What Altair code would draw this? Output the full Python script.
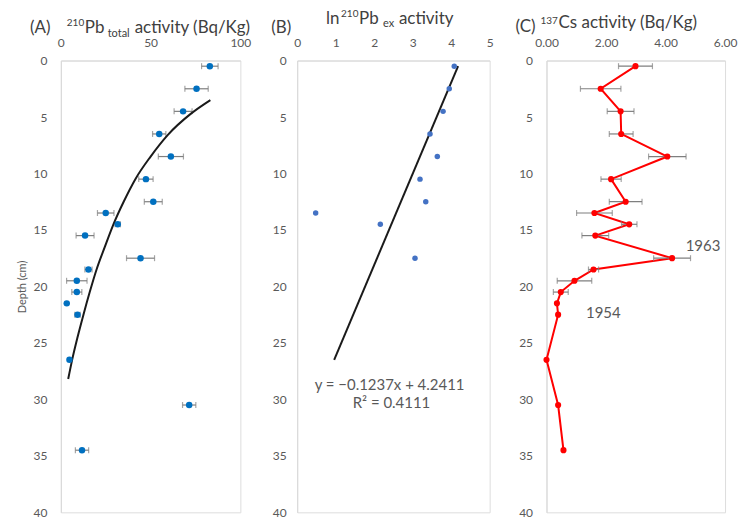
import altair as alt
import pandas as pd

FONT = "Lato"
LABEL_C = "#595959"
TITLE_C = "#404040"

# ---------------- Panel A : 210Pb total ----------------
depth_a = [0.5, 2.5, 4.5, 6.5, 8.5, 10.5, 12.5, 13.5, 14.5, 15.5, 17.5, 18.5, 19.5, 20.5, 21.5, 22.5, 26.5, 30.5, 34.5]
pb_total = [83.0, 75.6, 68.1, 54.8, 61.3, 47.4, 51.5, 25.0, 31.7, 13.5, 44.4, 15.4, 8.9, 8.9, 3.3, 9.3, 4.8, 71.5, 11.8]
pb_total_err = [4.6, 6.5, 5.0, 3.7, 7.0, 4.0, 5.0, 4.6, 1.5, 5.0, 7.8, 2.0, 5.7, 2.8, 0.0, 1.5, 0.0, 3.7, 3.7]
fit_a_depth = [3.5, 4.7, 6.6, 8.5, 10.5, 12.5, 14.5, 16.5, 18.5, 20.5, 22.5, 24.5, 26.5, 28.2]
fit_a_value = [83.3, 72.5, 59.5, 50.0, 41.5, 35.0, 29.3, 24.5, 19.9, 16.1, 12.6, 9.3, 6.3, 4.1]

# ---------------- Panel B : ln 210Pb excess ----------------
depth_b = [0.5, 2.5, 4.5, 6.5, 8.5, 10.5, 12.5, 13.5, 14.5, 17.5]
ln_pbex = [4.08, 3.95, 3.79, 3.45, 3.64, 3.19, 3.34, 0.48, 2.16, 3.06]
fit_b_depth = [0.5, 26.5]
fit_b_value = [4.18, 0.96]
eq_text = ["y = \u22120.1237x + 4.2411", "R\u00b2 = 0.4111"]
eq_x = [2.40, 2.45]
eq_depth = [28.7, 30.3]

# ---------------- Panel C : 137Cs ----------------
depth_c = [0.5, 2.5, 4.5, 6.5, 8.5, 10.5, 12.5, 13.5, 14.5, 15.5, 17.5, 18.5, 19.5, 20.5, 21.5, 22.5, 26.5, 30.5, 34.5]
cs = [2.99, 1.82, 2.49, 2.51, 4.06, 2.17, 2.66, 1.61, 2.78, 1.64, 4.22, 1.58, 0.94, 0.48, 0.35, 0.39, 0.0, 0.39, 0.57]
cs_err = [0.57, 0.68, 0.45, 0.40, 0.63, 0.34, 0.55, 0.60, 0.26, 0.45, 0.62, 0.17, 0.58, 0.25, 0.0, 0.0, 0.0, 0.0, 0.0]
year_text = ["1963", "1954"]
year_x = [5.26, 1.91]
year_depth = [16.45, 22.36]

H = 453
one = pd.DataFrame({"k": [0]})


def make_y(pad, title=""):
    def f():
        ax = alt.Axis(values=list(range(0, 41, 5)), labelPadding=pad, labelFontSize=12,
                      labelColor=LABEL_C, domainColor="#d9d9d9", ticks=False, grid=False,
                      title=title, titleFontSize=11, titleFontWeight="normal",
                      titleColor=LABEL_C, titlePadding=6)
        return alt.Y("depth:Q", scale=alt.Scale(domain=[0, 40], reverse=True, nice=False), axis=ax)
    return f


def make_x(domain, values, fmt=None):
    def f(field):
        kw = dict(orient="top", values=values, labelPadding=11, labelFontSize=12,
                  labelColor=LABEL_C, domainColor="#d9d9d9", ticks=False, grid=False,
                  labelFlush=False, title=None)
        if fmt:
            kw["format"] = fmt
        return alt.X(field, scale=alt.Scale(domain=domain, nice=False), axis=alt.Axis(**kw))
    return f


def txt(s, x, y, size, color=TITLE_C, align="left"):
    return alt.Chart(one).mark_text(text=s, align=align, baseline="alphabetic",
                                    fontSize=size, font=FONT, color=color).encode(
        x=alt.value(x), y=alt.value(y))


def errbars(df, field, xf, yf):
    d = df[df["err"] > 0]
    rule = alt.Chart(d).transform_calculate(
        lo=f"datum.{field} - datum.err", hi=f"datum.{field} + datum.err"
    ).mark_rule(color="#7f7f7f", strokeWidth=1.2).encode(
        x=xf("lo:Q"), x2="hi:Q", y=yf())
    tlo = alt.Chart(d).transform_calculate(lo=f"datum.{field} - datum.err").mark_tick(
        orient="vertical", color="#7f7f7f", size=6, thickness=1.2).encode(
        x=xf("lo:Q"), y=yf())
    thi = alt.Chart(d).transform_calculate(hi=f"datum.{field} + datum.err").mark_tick(
        orient="vertical", color="#7f7f7f", size=6, thickness=1.2).encode(
        x=xf("hi:Q"), y=yf())
    return [rule, tlo, thi]


# ---- Panel A
dfa = pd.DataFrame({"depth": depth_a, "val": pb_total, "err": pb_total_err})
dfa_fit = pd.DataFrame({"depth": fit_a_depth, "val": fit_a_value})
xa = make_x([0, 100], [0, 50, 100])
ya = make_y(14, "Depth (cm)")
a_layers = errbars(dfa, "val", xa, ya) + [
    alt.Chart(dfa_fit).mark_line(color="#1a1a1a", strokeWidth=2, interpolate="monotone").encode(
        x=xa("val:Q"), y=ya(), order="depth:Q"),
    alt.Chart(dfa).mark_circle(color="#0070C0", size=42, opacity=1).encode(x=xa("val:Q"), y=ya()),
    txt("(A)", -31, -28, 17),
    txt("210", 6, -35, 10),
    txt("Pb", 24, -28, 17),
    txt("total", 47, -24, 11),
    txt("activity (Bq/Kg)", 74, -28, 17),
]
panelA = alt.layer(*a_layers).properties(width=180, height=H)

# ---- Panel B
dfb = pd.DataFrame({"depth": depth_b, "val": ln_pbex})
dfb_fit = pd.DataFrame({"depth": fit_b_depth, "val": fit_b_value})
dfb_eq = pd.DataFrame({"depth": eq_depth, "val": eq_x, "t": eq_text})
xb = make_x([0, 5], [0, 1, 2, 3, 4, 5])
yb = make_y(11)
b_layers = [
    alt.Chart(dfb_fit).mark_line(color="#1a1a1a", strokeWidth=2).encode(
        x=xb("val:Q"), y=yb(), order="depth:Q"),
    alt.Chart(dfb).mark_circle(color="#4472C4", size=30, opacity=1).encode(x=xb("val:Q"), y=yb()),
    alt.Chart(dfb_eq).mark_text(fontSize=15, font=FONT, color=LABEL_C, align="center",
                                baseline="middle").encode(x=xb("val:Q"), y=yb(), text="t:N"),
    txt("(B)", -26, -28, 17),
    txt("ln", 29, -37, 17),
    txt("210", 44, -44, 10),
    txt("Pb", 62, -37, 17),
    txt("ex", 86, -34, 11),
    txt("activity", 102, -37, 17),
]
panelB = alt.layer(*b_layers).properties(width=193, height=H)

# ---- Panel C
dfc = pd.DataFrame({"depth": depth_c, "val": cs, "err": cs_err})
dfc_lab = pd.DataFrame({"depth": year_depth, "val": year_x, "t": year_text})
xc = make_x([0, 6], [0, 2, 4, 6], ".2f")
yc = make_y(14)
c_layers = [
    alt.Chart(dfc).mark_line(color="#FF0000", strokeWidth=2).encode(
        x=xc("val:Q"), y=yc(), order="depth:Q"),
] + errbars(dfc, "val", xc, yc) + [
    alt.Chart(dfc).mark_circle(color="#FF0000", size=38, opacity=1).encode(x=xc("val:Q"), y=yc()),
    alt.Chart(dfc_lab).mark_text(fontSize=15, font=FONT, color=LABEL_C, align="center",
                                 baseline="middle").encode(x=xc("val:Q"), y=yc(), text="t:N"),
    txt("(C)", -31, -29, 17),
    txt("137", -6, -37, 10),
    txt("Cs activity (Bq/Kg)", 12, -33, 17),
]
panelC = alt.layer(*c_layers).properties(width=179, height=H)

chart = alt.hconcat(panelA, panelB, panelC, spacing=57, bounds="flush").properties(
    padding={"left": 15, "top": 7, "right": 0, "bottom": 0},
    background="white",
).configure_view(fill="#f2f2f2", strokeWidth=0).configure(font=FONT)

chart.save("out.html", embed_options={"renderer": "svg", "actions": False})
